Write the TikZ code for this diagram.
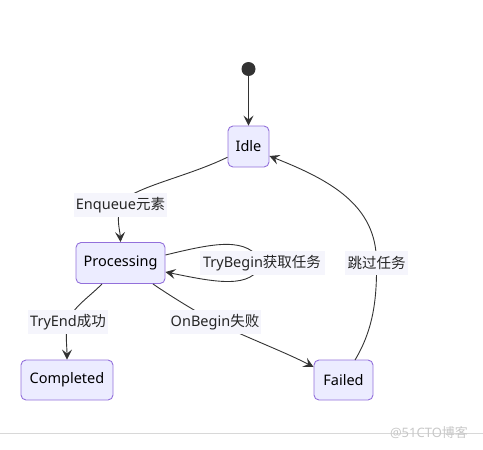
\documentclass[tikz,border=0pt]{standalone}
\usepackage{fontspec}
\setmainfont{Noto Sans}
\newfontfamily\cjk{Noto Sans CJK SC}
\usetikzlibrary{arrows.meta}
\definecolor{boxfill}{HTML}{ECECFF}
\definecolor{boxline}{HTML}{9370DB}
\definecolor{ink}{HTML}{333333}
\definecolor{labbg}{HTML}{F5F5FC}
\definecolor{wm}{HTML}{C8C8C8}
\definecolor{wmline}{HTML}{D8D8D8}
\begin{document}
\begin{tikzpicture}[x=1pt,y=-1pt,
  state/.style={draw=boxline,fill=boxfill,line width=0.9pt,rounded corners=5pt,
    minimum height=41pt,inner sep=0pt,font=\fontsize{14.5}{16}\selectfont,text=black},
  elab/.style={fill=labbg,inner sep=0pt,minimum height=24pt,font=\fontsize{14.5}{16}\selectfont,text=black!85},
  edge/.style={draw=ink,line width=0.9pt,-{Stealth[length=10pt,width=10pt,inset=4pt]}}]
\useasboundingbox (0,0) rectangle (483,450);
% watermark
\draw[wmline,line width=0.8pt] (0,433) -- (483,433);
\node[text=wm,font=\fontsize{13}{15}\selectfont] (wmark) at (429,433) {@51CTO\cjk{博客}};
% states
\node[circle,fill=ink,minimum size=14pt,inner sep=0pt] (start) at (248.5,69) {};
\node[state,minimum width=41pt] (idle) at (248.5,146.5) {Idle};
\node[state,minimum width=89pt] (proc) at (120.5,263) {Processing};
\node[state,minimum width=92pt,minimum height=40pt] (comp) at (67,380) {Completed};
\node[state,minimum width=59pt,minimum height=40pt] (fail) at (343.5,380) {Failed};
% label anchors
\coordinate (l1) at (120.5,205);
\coordinate (l2) at (262,263);
\coordinate (l3) at (68,322);
\coordinate (l4) at (215,322);
\coordinate (l5) at (376.5,263);
% edges
\draw[edge] (start) -- (idle);
\draw[edge] (idle.207) .. controls (185,178) and (128,188) .. (l1)
   .. controls (116,220) and (120,230) .. (proc.north);
\draw[edge] ([yshift=8pt]proc.east) .. controls (215,243) and (248,236) .. (l2)
   .. controls (252,290) and (215,282) .. ([yshift=-9pt]proc.east);
\draw[edge] (102,284) .. controls (88,298) and (72,308) .. (l3)
   .. controls (65,336) and (67,345) .. (comp.north);
\draw[edge] (153,284) .. controls (172,297) and (195,311) .. (l4)
   .. controls (245,337) and (285,352) .. ([yshift=13pt]fail.west);
\draw[edge] (355,360) .. controls (373,330) and (377,300) .. (l5)
   .. controls (377,205) and (330,180) .. (idle.east |- 0,156);
% labels
\node[elab,minimum width=93pt] (lab1) at (l1) {Enqueue\cjk{元素}};
\node[elab,minimum width=125pt] (lab2) at (l2) {TryBegin\cjk{获取任务}};
\node[elab,minimum width=80pt] (lab3) at (l3) {TryEnd\cjk{成功}};
\node[elab,minimum width=91pt] (lab4) at (l4) {OnBegin\cjk{失败}};
\node[elab,minimum width=63pt] (lab5) at (l5) {\cjk{跳过任务}};
\end{tikzpicture}
\end{document}
